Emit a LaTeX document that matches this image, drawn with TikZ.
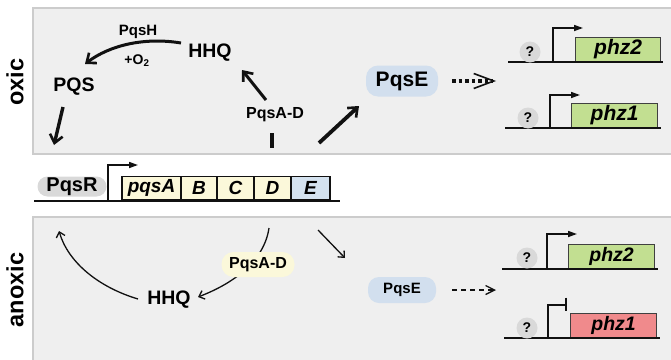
\documentclass[tikz,border=0pt]{standalone}
\usepackage{fontspec}
\setmainfont{Liberation Sans}
\usetikzlibrary{arrows.meta}
\definecolor{panelbg}{HTML}{EFEFEF}
\definecolor{panelline}{HTML}{CCCCCC}
\definecolor{geneyellow}{HTML}{FBF8DA}
\definecolor{geneblue}{HTML}{D4E2EF}
\definecolor{pillblue}{HTML}{D2DFEE}
\definecolor{pillgray}{HTML}{D9D9D9}
\definecolor{phzgreen}{HTML}{C2DF91}
\definecolor{phzred}{HTML}{F08A8C}
\definecolor{inkc}{HTML}{111111}
\tikzset{
  fsz/.style={font=\bfseries\fontsize{#1}{#1}\selectfont},
  boldarrow/.style={draw=inkc, line width=3.4pt, -{Straight Barb[length=8pt,width=13pt,line width=2.6pt]}},
  thinarrow/.style={draw=inkc, line width=1.3pt, -{Straight Barb[length=5pt,width=9pt,line width=1.3pt]}},
  genebox/.style={draw=inkc, line width=1.4pt, inner sep=0pt, minimum height=23pt, font=\bfseries\itshape\fontsize{19}{19}\selectfont},
  phzbox/.style={draw=black!75, line width=1.2pt, inner sep=0pt, minimum width=86pt, minimum height=24pt},
  pill/.style={rounded corners=12pt, inner sep=0pt},
  qmark/.style={circle, fill=pillgray, minimum size=21pt, inner sep=0pt, fsz=14},
  dnaline/.style={draw=inkc, line width=1.7pt},
  prom/.style={draw=inkc, line width=1.6pt, -{Triangle[length=9pt,width=6pt]}},
  promstop/.style={draw=inkc, line width=1.6pt},
}
\begin{document}
\begin{tikzpicture}[x=1pt,y=-1pt]
\useasboundingbox (0,0) rectangle (671,359);
% panels
\draw[fill=panelbg, draw=panelline, line width=1.6pt] (33,8) rectangle (690,154);
\draw[fill=panelbg, draw=panelline, line width=1.6pt] (33,217) rectangle (690,380);
% side labels
\node[rotate=90, fsz=23.5] (oxic) at (15,82) {oxic};
\node[rotate=90, fsz=23.5] (anoxic) at (15,290) {anoxic};

% ---------------- top panel ----------------
\node[fsz=19.5] (hhqA) at (210,53) {HHQ};
\node[fsz=19.5] (pqs) at (74,87) {PQS};
\node[fsz=15] (pqsh) at (138,32) {PqsH};
\node[fsz=14] (oxy) at (137,61) {+O\textsubscript{2}};
\node[fsz=16] (pqsadA) at (275,115) {PqsA-D};
\coordinate (hhqAout) at (181,43);
\coordinate (pqsin) at (85,64);
\draw[boldarrow, line width=3pt] (hhqAout) .. controls (145,37) and (110,45) .. (pqsin);
\coordinate (pqsout) at (63,107);
\coordinate (pqsend) at (54,145);
\draw[boldarrow] (pqsout) -- (pqsend);
\coordinate (adAfrom) at (266,100);
\coordinate (adAto) at (242,70);
\draw[boldarrow, line width=3pt] (adAfrom) -- (adAto);
\coordinate (stubA) at (272,133);
\coordinate (stubB) at (272,148);
\draw[draw=inkc, line width=3.2pt] (stubA) -- (stubB);
\coordinate (diagA) at (319,143);
\coordinate (diagB) at (359,106);
\draw[boldarrow, line width=3.8pt] (diagA) -- (diagB);
\node[pill, fill=pillblue, minimum width=72pt, minimum height=31pt, fsz=21] (pqseA) at (402,81) {PqsE};
\coordinate (dotA) at (452,81);
\coordinate (dotB) at (496,81);
\draw[draw=inkc, line width=3.6pt, dash pattern=on 3.5pt off 3pt,
  -{Straight Barb[length=20pt,width=15pt,line width=1.6pt]}] (dotA) -- (dotB);

% phz2 top
\coordinate (l2a) at (508,62); \coordinate (l2b) at (663,62);
\node[phzbox, fill=phzgreen, anchor=south west, minimum width=85pt, font=\bfseries\itshape\fontsize{21}{21}\selectfont] (phz2A) at (575,62) {phz2};
\draw[dnaline] (l2a) -- (l2b);
\node[qmark] (q2A) at (530,52) {?};
\coordinate (p2a) at (553,62); \coordinate (p2b) at (553,28); \coordinate (p2c) at (583,28);
\draw[prom] (p2a) -- (p2b) -- (p2c);
% phz1 top
\coordinate (l1a) at (505,128); \coordinate (l1b) at (661,128);
\node[phzbox, fill=phzgreen, anchor=south west, font=\bfseries\itshape\fontsize{21}{21}\selectfont] (phz1A) at (571,128) {phz1};
\draw[dnaline] (l1a) -- (l1b);
\node[qmark] (q1A) at (528,118) {?};
\coordinate (p1a) at (550,128); \coordinate (p1b) at (550,95); \coordinate (p1c) at (580,95);
\draw[prom] (p1a) -- (p1b) -- (p1c);

% ---------------- operon ----------------
\coordinate (opa) at (34,201); \coordinate (opb) at (340,201);
\node[pill, fill=pillgray, minimum width=69pt, minimum height=20pt, rounded corners=10pt, fsz=20] (pqsr) at (72,186.5) {PqsR};
\node[genebox, fill=geneyellow, minimum width=59pt] (gA) at (151.5,188) {pqsA};
\node[genebox, fill=geneyellow, minimum width=36pt] (gB) at (199,188) {B};
\node[genebox, fill=geneyellow, minimum width=37pt] (gC) at (235.5,188) {C};
\node[genebox, fill=geneyellow, minimum width=37pt] (gD) at (272.5,188) {D};
\node[genebox, fill=geneblue, minimum width=39pt] (gE) at (310.5,188) {E};
\draw[dnaline] (opa) -- (opb);
\coordinate (pra) at (108,201); \coordinate (prb) at (108,165); \coordinate (prc) at (138,165);
\draw[prom] (pra) -- (prb) -- (prc);

% ---------------- bottom panel ----------------
\node[fsz=19.5] (hhqB) at (169,300) {HHQ};
\coordinate (adBfrom) at (269,228);
\coordinate (adBto) at (198,297);
\draw[thinarrow] (adBfrom) .. controls (264,262) and (232,284) .. (adBto);
\node[pill, fill=geneyellow, minimum width=73pt, minimum height=25pt, fsz=16] (pqsadB) at (258,264.5) {PqsA-D};
\coordinate (hhqBout) at (138,299);
\coordinate (upend) at (59,231);
\draw[thinarrow] (hhqBout) .. controls (98,287) and (68,262) .. (upend);
\coordinate (thA) at (318,230);
\coordinate (thB) at (345,258);
\draw[thinarrow] (thA) -- (thB);
\node[pill, fill=pillblue, minimum width=68pt, minimum height=26pt, rounded corners=11pt, fsz=15] (pqseB) at (402,290) {PqsE};
\coordinate (dsA) at (452,290);
\coordinate (dsB) at (496,290);
\draw[draw=inkc, line width=1.4pt, dash pattern=on 5pt off 4pt,
  -{Straight Barb[length=9pt,width=9pt,line width=1.3pt]}] (dsA) -- (dsB);

% phz2 bottom
\coordinate (m2a) at (502,269); \coordinate (m2b) at (658,269);
\node[phzbox, fill=phzgreen, anchor=south west, font=\bfseries\itshape\fontsize{19.5}{19.5}\selectfont] (phz2B) at (568,269) {phz2};
\draw[dnaline] (m2a) -- (m2b);
\node[qmark] (q2B) at (527,258) {?};
\coordinate (r2a) at (547,269); \coordinate (r2b) at (547,234); \coordinate (r2c) at (577,234);
\draw[prom] (r2a) -- (r2b) -- (r2c);
% phz1 bottom
\coordinate (m1a) at (504,338); \coordinate (m1b) at (660,338);
\node[phzbox, fill=phzred, anchor=south west, font=\bfseries\itshape\fontsize{19.5}{19.5}\selectfont] (phz1B) at (570,338) {phz1};
\draw[dnaline] (m1a) -- (m1b);
\node[qmark] (q1B) at (527,328) {?};
\coordinate (r1a) at (548,338); \coordinate (r1b) at (548,305); \coordinate (r1c) at (566,305);
\draw[promstop] (r1a) -- (r1b) -- (r1c);
\coordinate (barA) at (566,297.5); \coordinate (barB) at (566,311);
\draw[promstop] (barA) -- (barB);
\end{tikzpicture}
\end{document}
